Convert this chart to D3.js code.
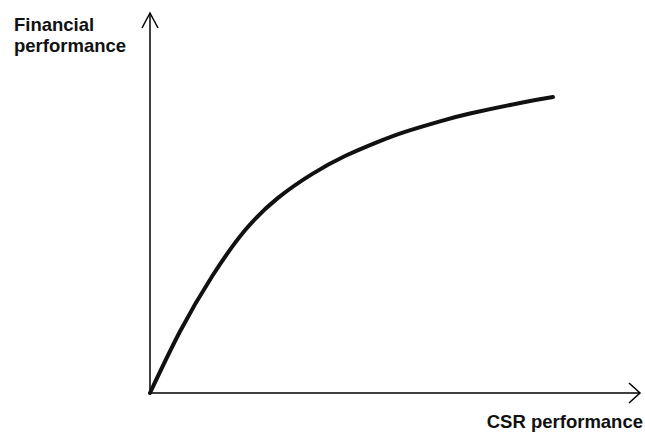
<!DOCTYPE html>
<html>
<head>
<meta charset="utf-8">
<script src="https://cdn.jsdelivr.net/npm/d3@7"></script>
<style>
  html, body { margin: 0; padding: 0; background: #fff; }
  svg { display: block; }
</style>
</head>
<body>
<svg id="chart" width="645" height="432"></svg>
<script>
// Conceptual curve: CSR performance (x) vs Financial performance (y), arbitrary units 0..10
const csr =       [0, 0.612, 1.265, 1.939, 2.612, 3.306, 3.980, 4.653, 5.204, 5.918, 6.531, 7.551, 8.224];
const financial = [0, 1.618, 3.066, 4.282, 5.134, 5.761, 6.237, 6.611, 6.874, 7.150, 7.355, 7.632, 7.787];
const xLabel = "CSR performance";
const yLabel = ["Financial", "performance"];

const svg = d3.select("#chart");
const x = d3.scaleLinear().domain([0, 10]).range([150, 640]);
const y = d3.scaleLinear().domain([0, 10]).range([393, 13]);

const ink = "#000";

// axes
svg.append("line").attr("x1", x(0)).attr("y1", y(0)).attr("x2", x(0)).attr("y2", y(10))
  .attr("stroke", ink).attr("stroke-width", 1.5);
svg.append("line").attr("x1", x(0)).attr("y1", y(0)).attr("x2", x(10)).attr("y2", y(0))
  .attr("stroke", ink).attr("stroke-width", 1.5);

// open arrowheads
svg.append("path")
  .attr("d", `M${x(0)-8},${y(10)+15} L${x(0)},${y(10)} L${x(0)+8},${y(10)+15}`)
  .attr("fill", "none").attr("stroke", ink).attr("stroke-width", 1.5);
svg.append("path")
  .attr("d", `M${x(10)-11},${y(0)-10} L${x(10)},${y(0)} L${x(10)-11},${y(0)+10}`)
  .attr("fill", "none").attr("stroke", ink).attr("stroke-width", 1.5);

// curve
const pts = csr.map((v, i) => [v, financial[i]]);
const line = d3.line().x(d => x(d[0])).y(d => y(d[1])).curve(d3.curveNatural);
svg.append("path").datum(pts).attr("d", line)
  .attr("fill", "none").attr("stroke", "#111").attr("stroke-width", 4).attr("stroke-linecap", "round");

// labels
const font = "'Liberation Sans', Arial, sans-serif";
const yl = svg.append("text").attr("x", 14).attr("y", 31)
  .attr("font-family", font).attr("font-weight", "bold").attr("font-size", 18.5).attr("fill", "#111");
yLabel.forEach((t, i) => yl.append("tspan").attr("x", 14).attr("dy", i === 0 ? 0 : 21).text(t));

svg.append("text").attr("x", 643).attr("y", 428).attr("text-anchor", "end")
  .attr("font-family", font).attr("font-weight", "bold").attr("font-size", 18.5).attr("fill", "#111")
  .text(xLabel);
</script>
</body>
</html>
